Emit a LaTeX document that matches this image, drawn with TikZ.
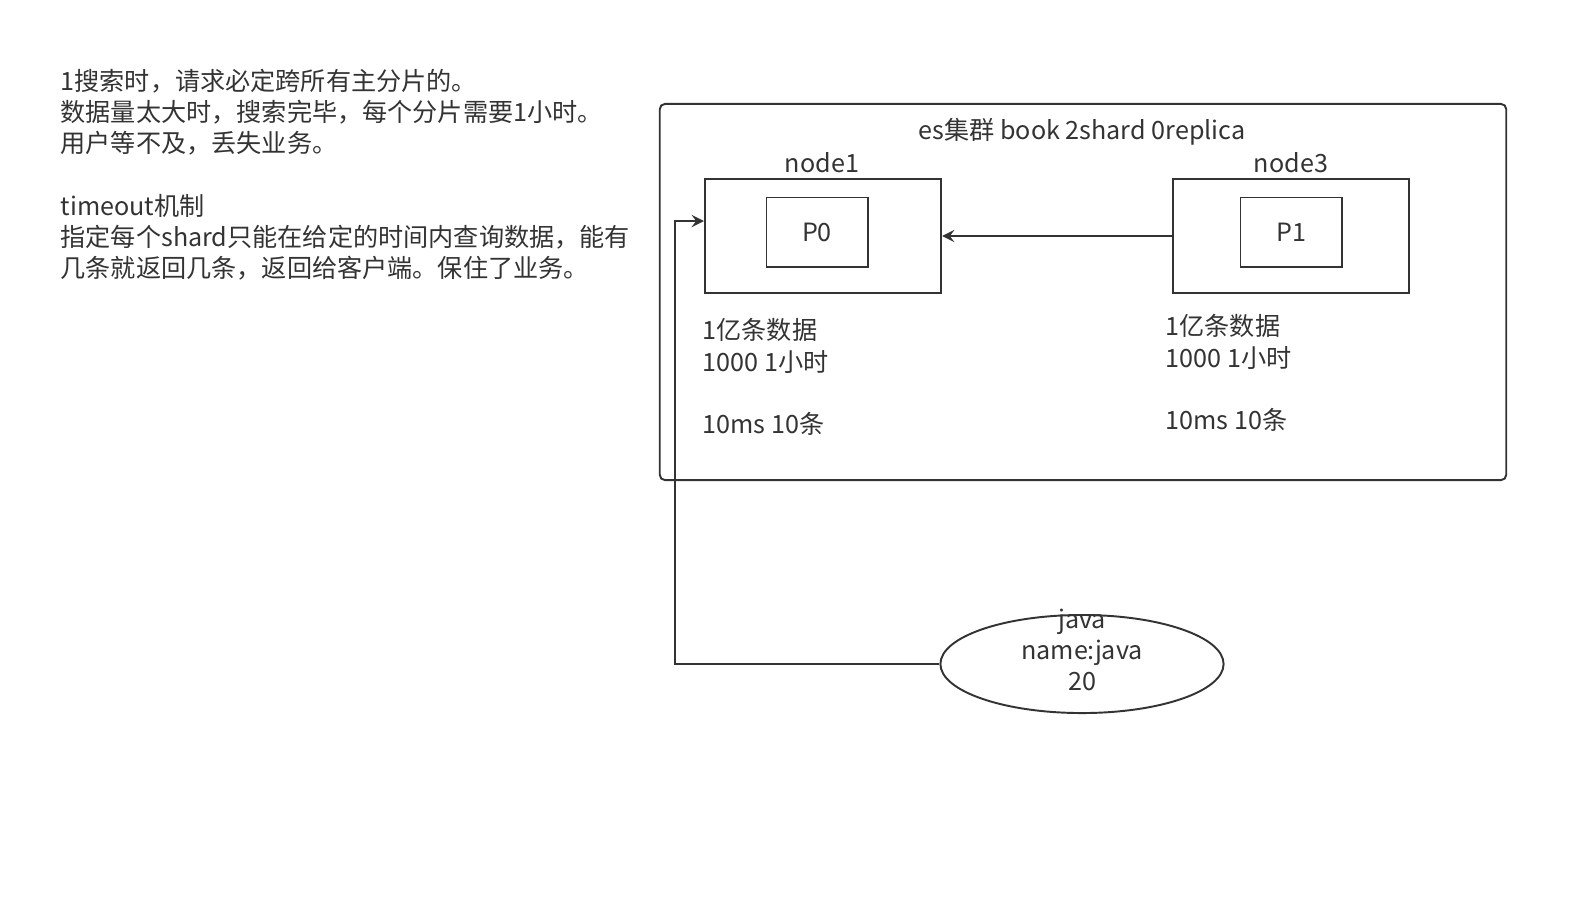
\documentclass[tikz,border=0pt]{standalone}
\usepackage{fontspec}
\setmainfont{Noto Sans CJK SC}
\usetikzlibrary{shapes.geometric}
\definecolor{ink}{HTML}{333333}
\begin{document}
\begin{tikzpicture}[
        x=0.01cm, y=-0.01cm,
        every node/.style={font=\fontsize{7.15}{8.9}\selectfont, text=ink},
        cluster/.style={draw=ink, line width=0.55pt, rounded corners=1.5pt,
            minimum width=8.46cm, minimum height=3.76cm, inner sep=0pt},
        nodebox/.style={draw=ink, line width=0.55pt, minimum width=2.36cm,
            minimum height=1.14cm, inner sep=0pt},
        shardbox/.style={draw=ink, line width=0.55pt, minimum width=1.01cm,
            minimum height=0.69cm, inner sep=0pt},
        client/.style={draw=ink, line width=0.55pt, ellipse, minimum width=2.83cm,
            minimum height=0.98cm, inner sep=0pt, align=center},
        note/.style={align=left, inner sep=0pt, anchor=north west},
        link/.style={draw=ink, line width=0.55pt, ->, >=stealth}
    ]
        \useasboundingbox (0,0) rectangle (1576,920);

        % Notes
        \node[note] (intro) at (60,68) {1搜索时，请求必定跨所有主分片的。\\数据量太大时，搜索完毕，每个分片需要1小时。\\用户等不及，丢失业务。\\[8.9pt]timeout机制\\指定每个shard只能在给定的时间内查询数据，能有\\几条就返回几条，返回给客户端。保住了业务。};

        % Cluster
        \node[cluster] (es) at (1083,292) {};
        \node (title) at (1082,132) {es集群 book 2shard 0replica};

        % Nodes and shards
        \node[nodebox] (node1) at (823,236) {};
        \node[shardbox] (p0) at (817,232) {P0};
        \node (n1label) at (822,163) {node1};
        \node[nodebox] (node3) at (1291,236) {};
        \node[shardbox] (p1) at (1291,232) {P1};
        \node (n3label) at (1291,163) {node3};

        % Data notes
        \node[note] (d1) at (702,318) {1亿条数据\\1000 1小时\\[8.9pt]10ms 10条};
        \node[note] (d3) at (1165,314) {1亿条数据\\1000 1小时\\[8.9pt]10ms 10条};

        % Client
        \node[client] (java) at (1082,664) {};
        \node (jtext) at (1082,650) [align=center] {java\\name:java\\20};

        % Connectors
        \coordinate (turn) at (675,221);
        \draw[link] (node3) -- (node1);
        \draw[link] (java.west) -| (turn) -- (node1.west |- turn);
    \end{tikzpicture}
\end{document}
